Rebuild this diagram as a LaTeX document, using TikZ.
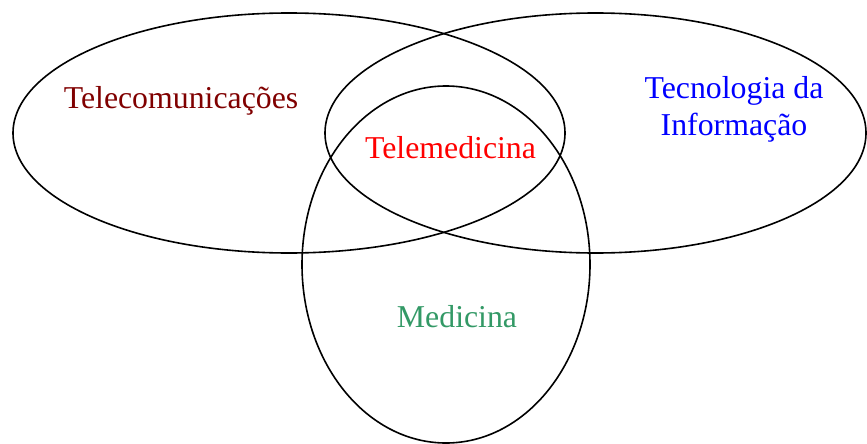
\documentclass[tikz,border=0pt]{standalone}
\usepackage{fontspec}
\setmainfont{Liberation Serif}
\usepackage{tikz}
\definecolor{telecom}{RGB}{128,0,0}
\definecolor{medgreen}{RGB}{51,153,102}

\begin{document}
\begin{tikzpicture}[x=1pt,y=-1pt]
\tikzstyle{set}=[draw=black,line width=1.6pt];
\tikzstyle{label}=[anchor=base,inner sep=0pt,font=\fontsize{31.8}{36}\selectfont];
\useasboundingbox (0,0) rectangle (867,444);
\draw [set] (289,133) ellipse [x radius=276,y radius=120];
\draw [set] (595.5,133) ellipse [x radius=270.5,y radius=120];
\draw [set] (446,264.5) ellipse [x radius=144,y radius=178.5];
\node (tel) [label,text=telecom] at (181,108) {Telecomunicações};
\node (ti) [label,text=blue,align=center] at (734,135) {Tecnologia da\\Informação};
\node (tm) [label,text=red] at (450.5,158) {Telemedicina};
\node (med) [label,text=medgreen] at (457,327) {Medicina};
\end{tikzpicture}
\end{document}
